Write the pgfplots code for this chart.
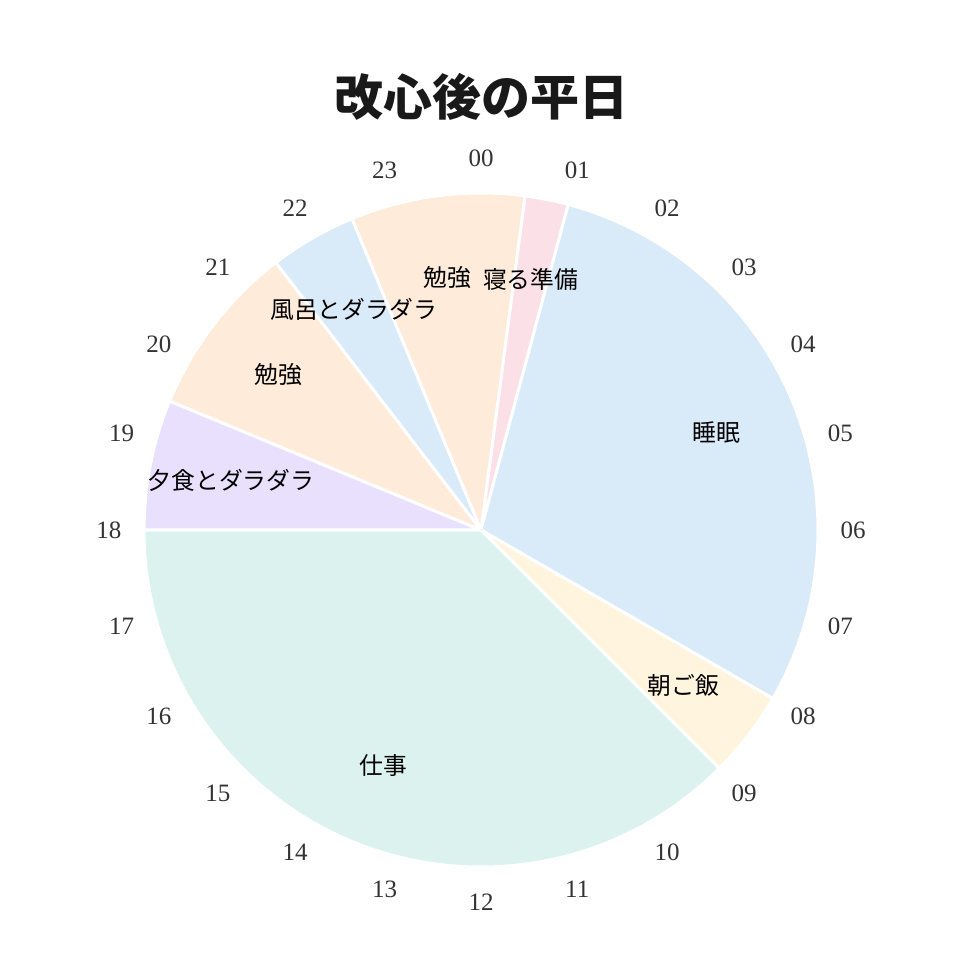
\documentclass[border=0pt]{standalone}
\usepackage{pgfplots}
\usepackage{pgfplotstable}
\pgfplotsset{compat=1.18}
\usepackage{fontspec}
\setmainfont{Liberation Serif}
\newfontfamily\jp{Noto Sans CJK JP}

\definecolor{cpink}{HTML}{FCE0E8}
\definecolor{cblue}{HTML}{D9EAF9}
\definecolor{ccream}{HTML}{FFF4DD}
\definecolor{cmint}{HTML}{DBF2EF}
\definecolor{clav}{HTML}{E8E0FC}
\definecolor{cpeach}{HTML}{FEEBDA}

% hours of the day, clockwise from 00 at the top
\pgfplotstableread{
cx  cy  start end  label          col
481 430 0.5   1    寝る準備       cpink
481 430 1     8    睡眠           cblue
481 430 8     9    朝ご飯         ccream
481 430 9     18   仕事           cmint
481 430 18    19.5 夕食とダラダラ clav
481 430 19.5  21.5 勉強           cpeach
481 430 21.5  22.5 風呂とダラダラ cblue
481 430 22.5  24.5 勉強           cpeach
}\slices

\begin{document}
\begin{tikzpicture}
\useasboundingbox (0,0) rectangle (480pt,480pt);
\begin{axis}[
    at={(0,0)}, anchor=south west,
    scale only axis, width=480pt, height=480pt,
    xmin=0, xmax=960, ymin=0, ymax=960,
    hide axis, clip=false,
    only marks, scatter, point meta=explicit symbolic,
    mark=*, mark size=0pt,
    visualization depends on={\thisrow{start} \as \hs},
    visualization depends on={\thisrow{end} \as \he},
]
    % wedges
    \addplot[
        scatter/@pre marker code/.code={%
            \pgfmathsetmacro\aS{90-15*\hs}%
            \pgfmathsetmacro\aE{90-15*\he}%
            \fill[color=\pgfplotspointmeta, draw=white, line width=1.5pt, line join=round]
                (0,0) -- (\aS:168.5pt) arc[start angle=\aS, end angle=\aE, radius=168.5pt] -- cycle;
            \scope[draw=none, fill=none]},
        scatter/@post marker code/.code={\endscope},
    ] table[x=cx, y=cy, meta=col] {\slices};
    % slice labels
    \addplot[
        scatter/@pre marker code/.code={%
            \pgfmathsetmacro\aM{90-7.5*(\hs+\he)}%
            \node[font=\jp\fontsize{11.9}{13}\selectfont, text=black] at (\aM:127.5pt) {\pgfplotspointmeta};
            \scope[draw=none, fill=none]},
        scatter/@post marker code/.code={\endscope},
    ] table[x=cx, y=cy, meta=label] {\slices};
\end{axis}
\begin{scope}[shift={(240.5pt,215pt)}]
    \foreach \h in {0,...,23}
        \node[font=\fontsize{12.5}{14}\selectfont, text=black!80] at ({90-15*\h}:186pt) {\ifnum\h<10 0\fi\h};
\end{scope}
\node[font=\jp\bfseries\fontsize{24.5}{28}\selectfont, text=black!90] at (240.5pt,431.5pt) {改心後の平日};
\end{tikzpicture}
\end{document}
